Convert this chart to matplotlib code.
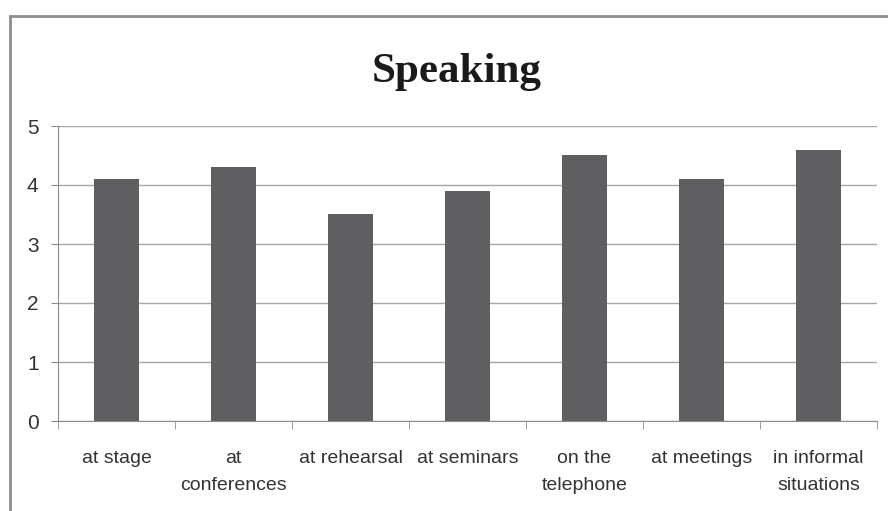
"""Bar chart: Speaking."""

import matplotlib

matplotlib.use("Agg")
import matplotlib.pyplot as plt
import numpy as np
from matplotlib.patches import Rectangle

categories = [
    "at stage",
    "at\nconferences",
    "at rehearsal",
    "at seminars",
    "on the\ntelephone",
    "at meetings",
    "in informal\nsituations",
]
values = [4.1, 4.3, 3.5, 3.9, 4.5, 4.1, 4.6]
y_ticks = [0, 1, 2, 3, 4, 5]

label_font = "Liberation Sans"

fig = plt.figure(figsize=(8.88, 5.11), dpi=100)
fig.patch.set_facecolor("white")

# outer chart frame (cut off at right and bottom like the reference)
fig.patches.append(Rectangle((10 / 888, -0.1), 1.2, 1 - 16 / 511 + 0.1,
                             transform=fig.transFigure, fill=False,
                             edgecolor="#8c8c8c", linewidth=2))

ax = fig.add_axes([58 / 888, 1 - 421 / 511, (877 - 58) / 888, (421 - 126) / 511])
x = np.arange(len(categories))
ax.bar(x, values, width=0.38, color="#5f5f61", zorder=3)

ax.set_xlim(-0.5, len(categories) - 0.5)
ax.set_ylim(0, 5)
ax.set_yticks(y_ticks)
ax.yaxis.grid(True, color="#a6a6a6", linewidth=1.0, zorder=0)

ax.set_xticks(x)
ax.set_xticklabels(categories, fontsize=14, family=label_font, color="#333333",
                   linespacing=1.75)
ax.tick_params(axis="x", length=0, pad=21)
ax.set_xticks(np.arange(len(categories) + 1) - 0.5, minor=True)
ax.tick_params(axis="x", which="minor", length=6, color="#8c8c8c", direction="out")
ax.tick_params(axis="y", length=5, color="#8c8c8c", labelsize=15, labelcolor="#333333",
               pad=9)
for lbl in ax.get_yticklabels():
    lbl.set_family(label_font)

for side in ("top", "right"):
    ax.spines[side].set_visible(False)
ax.spines["left"].set_color("#8c8c8c")
ax.spines["bottom"].set_color("#8c8c8c")

fig.text(457 / 888, 1 - 72 / 511, "Speaking", ha="center", va="center",
         fontsize=31, fontweight="bold", family="Liberation Serif", color="#1a1a1a")

fig.savefig("out.png", dpi=100)
